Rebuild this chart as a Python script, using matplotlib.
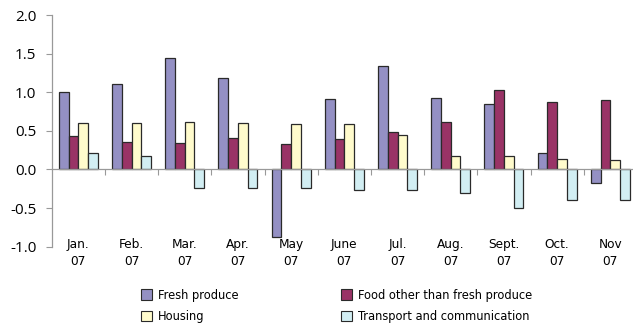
import matplotlib
matplotlib.use("Agg")
import matplotlib.pyplot as plt
import numpy as np
from matplotlib.patches import Patch
from matplotlib.transforms import blended_transform_factory
from matplotlib import font_manager as fm

months = ["Jan.\n07", "Feb.\n07", "Mar.\n07", "Apr.\n07", "May\n07", "June\n07",
          "Jul.\n07", "Aug.\n07", "Sept.\n07", "Oct.\n07", "Nov\n07"]
series_names = ["Fresh produce", "Food other than fresh produce", "Housing",
                "Transport and communication"]
fresh = [1.00, 1.11, 1.44, 1.19, -0.87, 0.91, 1.34, 0.92, 0.85, 0.21, -0.18]
food_other = [0.43, 0.35, 0.34, 0.41, 0.33, 0.39, 0.49, 0.61, 1.03, 0.87, 0.90]
housing = [0.60, 0.60, 0.61, 0.60, 0.59, 0.59, 0.45, 0.18, 0.18, 0.14, 0.12]
transport = [0.21, 0.18, -0.24, -0.24, -0.24, -0.26, -0.27, -0.30, -0.50, -0.40, -0.40]
yticks = [-1.0, -0.5, 0.0, 0.5, 1.0, 1.5, 2.0]
ytick_labels = ["-1.0", "-0.5", "0.0", "0.5", "1.0", "1.5", "2.0"]

colors = ["#9490C4", "#993366", "#FFFBCC", "#D2EEF3"]


def pick_condensed():
    prefs = ["liberation sans narrow", "dejavu sans condensed", "open sans condensed",
             "roboto condensed", "noto sans condensed", "dejavu sans"]
    found = []
    for f in fm.fontManager.ttflist:
        name = f.name.lower()
        fn = f.fname.lower()
        st = str(f.stretch).lower()
        cond = ("narrow" in name or "condensed" in name or "narrow" in fn
                or "condensed" in fn or "condensed" in st)
        if not cond:
            continue
        if "bold" in fn or "italic" in fn or "oblique" in fn or "light" in fn \
                or "semibold" in fn or "black" in fn or "medium" in fn or "thin" in fn:
            continue
        found.append(f)
    for p in prefs:
        for f in found:
            key = (f.name + " " + f.fname).lower()
            if p.split()[0] in key and ("narrow" in key or "condensed" in key):
                return fm.FontProperties(fname=f.fname), True
    if found:
        return fm.FontProperties(fname=found[0].fname), True
    return fm.FontProperties(family=["Lato", "DejaVu Sans"]), False


cfont, is_cond = pick_condensed()
lab_size = 9.7 if is_cond else 8.5
leg_size = 9.2 if is_cond else 8

fig = plt.figure(figsize=(6.33, 3.29), dpi=100)
W, H = 633, 329
left, right_px, top, bottom = 51.7, 51.7 + 11 * 53.2, 15, 246.7
ax = fig.add_axes([left / W, 1 - bottom / H, (right_px - left) / W, (bottom - top) / H])

x = np.arange(len(months))
bw = 0.184
data = [fresh, food_other, housing, transport]
for i, (vals, c) in enumerate(zip(data, colors)):
    ax.bar(x + (i - 1.5) * bw, vals, width=bw, color=c, edgecolor="#2a2a2a",
           linewidth=0.9, zorder=3)

ax.set_xlim(-0.5, len(months) - 0.5)
ax.set_ylim(-1.0, 2.0)
ax.set_yticks(yticks)
ax.set_yticklabels(ytick_labels, fontsize=11, family=["Open Sans", "DejaVu Sans"])
ax.tick_params(axis='y', length=4, width=0.8, color="#999999", pad=7)

for s in ["top", "right"]:
    ax.spines[s].set_visible(False)
ax.spines["left"].set_color("#999999")
ax.spines["left"].set_linewidth(0.9)
ax.spines["bottom"].set_position(("data", 0))
ax.spines["bottom"].set_color("#999999")
ax.spines["bottom"].set_linewidth(0.9)
ax.spines["bottom"].set_zorder(4)

ax.set_xticks(x)
ax.set_xticklabels([])
ax.tick_params(axis='x', which='major', length=0)
ax.set_xticks(np.arange(0.5, len(months)), minor=True)
ax.tick_params(axis='x', which='minor', length=4, width=0.8, color="#999999", direction='out')

trans = blended_transform_factory(ax.transData, ax.transAxes)
for xi, lab in zip(x, months):
    ax.text(xi, -0.027, lab, transform=trans, ha='center', va='center',
            fontproperties=cfont, fontsize=lab_size, linespacing=1.38)

h1 = [Patch(facecolor=colors[0], edgecolor="#2a2a2a", linewidth=0.8, label=series_names[0]),
      Patch(facecolor=colors[2], edgecolor="#2a2a2a", linewidth=0.8, label=series_names[2])]
h2 = [Patch(facecolor=colors[1], edgecolor="#2a2a2a", linewidth=0.8, label=series_names[1]),
      Patch(facecolor=colors[3], edgecolor="#2a2a2a", linewidth=0.8, label=series_names[3])]
lp = cfont.copy()
lp.set_size(leg_size)
common = dict(frameon=False, prop=lp, handlelength=0.85, handleheight=0.85,
              handletextpad=0.45, labelspacing=0.65, borderpad=0, borderaxespad=0)
fig.legend(handles=h1, loc='upper left', bbox_to_anchor=(141 / W, 1 - 289 / H), **common)
fig.legend(handles=h2, loc='upper left', bbox_to_anchor=(341 / W, 1 - 289 / H), **common)

fig.savefig("out.png", dpi=100)
